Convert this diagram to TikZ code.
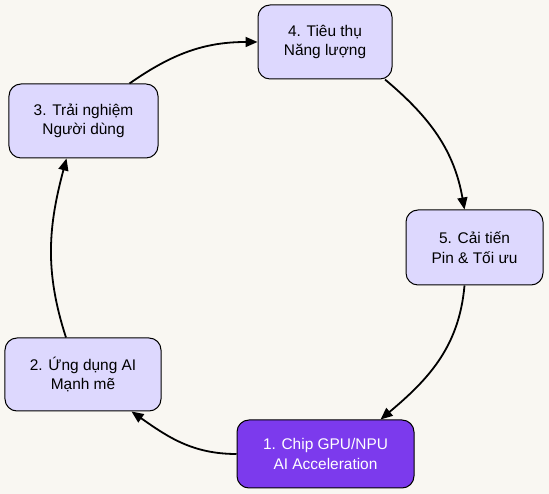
\documentclass[tikz,border=0pt]{standalone}
\usepackage{fontspec}
\setmainfont{Liberation Sans}
\usetikzlibrary{arrows.meta,positioning,calc}
\definecolor{pg}{HTML}{F9F7F2}
\definecolor{lav}{HTML}{DDD8FE}
\definecolor{acc}{HTML}{7C3AED}
\tikzset{
  blk/.style   ={draw=black, line width=1bp, rectangle, rounded corners=12bp, align=center,
                 fill=lav, font=\fontsize{15.5}{19.5}\selectfont, inner sep=0pt},
  blkacc/.style={blk, fill=acc, text=white},
  ar/.style    ={-{Triangle[length=12bp,width=10bp]}, line width=1.8bp},
}
\begin{document}
\begin{tikzpicture}[x=1bp,y=1bp]
\fill[pg] (0,0) rectangle (549,494);
\useasboundingbox (0,0) rectangle (549,494);
\node[blkacc, minimum width=177bp, minimum height=68bp] (n1) at (325.5,40)
  {1. Chip GPU/NPU\\AI Acceleration};
\node[blk, minimum width=156bp, minimum height=73bp] (n2) at (83,119.5)
  {2. Ứng dụng AI\\Mạnh mẽ};
\node[blk, minimum width=149bp, minimum height=74bp] (n3) at (83.5,373)
  {3. Trải nghiệm\\Người dùng};
\node[blk, minimum width=134bp, minimum height=74bp] (n4) at (325,452)
  {4. Tiêu thụ\\Năng lượng};
\node[blk, minimum width=137bp, minimum height=75bp] (n5) at (474.5,246.5)
  {5. Cải tiến\\Pin \& Tối ưu};
\draw[ar] (n1.west) to[out=180,in=-35] ([xshift=-30bp]n2.south east);
\draw[ar] ([xshift=-17bp]n2.north) to[out=108,in=-105] ([xshift=-17bp]n3.south);
\draw[ar] ([xshift=46bp]n3.north) to[out=35,in=180] (n4.west);
\draw[ar] ([xshift=60bp]n4.south) to[out=-40,in=100] ([xshift=-10bp]n5.north);
\draw[ar] ([xshift=-10bp]n5.south) to[out=-95,in=40] ([xshift=55bp]n1.north);
\end{tikzpicture}
\end{document}
